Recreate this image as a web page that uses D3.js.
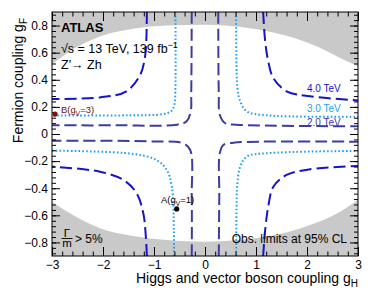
<!DOCTYPE html>
<html><head><meta charset="utf-8">
<script src="https://cdn.jsdelivr.net/npm/d3@7"></script>
<style>
html,body{margin:0;padding:0;background:#fff;}
svg{display:block;font-family:"Liberation Sans",Arial,Helvetica,sans-serif;}
</style></head>
<body><svg id="c" width="370" height="294"></svg>
<script>
// ---- data ----
const xTicks = [-3,-2,-1,0,1,2,3];
const yTicks = [-0.8,-0.6,-0.4,-0.2,0,0.2,0.4,0.6,0.8];
const xDomain = [-3,3];
const yDomain = [-0.9,0.9];

// Gamma/m > 5% excluded region boundaries [gH, gF]
const widthTop = [[-3,0.511],[-2.65,0.61],[-2.06,0.72],[-1.41,0.777],[-0.75,0.80],[0,0.806],[0.88,0.78],[1.54,0.73],[2.19,0.647],[2.65,0.56],[3,0.5]];
const widthBottom = [[-3,-0.499],[-2.65,-0.585],[-2.06,-0.695],[-1.41,-0.752],[-0.75,-0.782],[0,-0.794],[1.21,-0.757],[2.06,-0.671],[2.65,-0.573],[3,-0.487]];

// 4.0 TeV contour branches
const m4_TL = [[-1.14,0.9],[-1.15,0.70],[-1.18,0.56],[-1.27,0.437],[-1.54,0.315],[-2.06,0.27],[-3,0.258]];
const m4_TR = [[1.14,0.9],[1.18,0.684],[1.24,0.536],[1.34,0.413],[1.60,0.315],[2.06,0.278],[3,0.248]];
const m4_BL = [[-1.14,-0.9],[-1.16,-0.757],[-1.21,-0.585],[-1.34,-0.437],[-1.60,-0.339],[-2.06,-0.278],[-3,-0.241]];
const m4_BR = [[1.14,-0.9],[1.18,-0.708],[1.24,-0.536],[1.34,-0.389],[1.60,-0.302],[2.06,-0.26],[3,-0.236]];
// 3.0 TeV contour branches
const m3_TL = [[-0.58,0.9],[-0.58,0.35],[-0.60,0.22],[-0.66,0.17],[-0.82,0.147],[-1.5,0.138],[-3,0.137]];
const m3_TR = [[0.61,0.9],[0.62,0.45],[0.64,0.33],[0.69,0.241],[0.82,0.167],[1.21,0.138],[3,0.128]];
const m3_BL = [[-0.61,-0.9],[-0.61,-0.708],[-0.65,-0.389],[-0.75,-0.265],[-0.95,-0.192],[-1.41,-0.147],[-3,-0.123]];
const m3_BR = [[0.61,-0.9],[0.62,-0.5],[0.63,-0.389],[0.69,-0.241],[0.82,-0.167],[1.21,-0.142],[3,-0.125]];
// 2.0 TeV contour branches
const m2_TL = [[-0.26,0.9],[-0.27,0.3],[-0.28,0.167],[-0.36,0.094],[-0.55,0.069],[-1.73,0.064],[-3,0.064]];
const m2_TR = [[0.26,0.9],[0.27,0.3],[0.29,0.142],[0.39,0.081],[0.62,0.069],[3,0.057]];
const m2_BL = [[-0.26,-0.9],[-0.26,-0.46],[-0.29,-0.118],[-0.43,-0.069],[-1,-0.055],[-3,-0.049]];
const m2_BR = [[0.27,-0.9],[0.28,-0.46],[0.29,-0.142],[0.36,-0.081],[0.56,-0.064],[3,-0.057]];

const massLabels = ["4.0 TeV","3.0 TeV","2.0 TeV"];
const benchmarkA = [-0.555,-0.553];
const benchmarkB = [-2.94,0.147];

// ---- layout ----
const svg = d3.select("#c");
const L=52, R=358, T=12, B=256;
const x = d3.scaleLinear().domain(xDomain).range([L,R]);
const y = d3.scaleLinear().domain(yDomain).range([B,T]);
const FONT = "Liberation Sans, Arial, sans-serif";

svg.append("defs").append("clipPath").attr("id","clip")
  .append("rect").attr("x",L).attr("y",T).attr("width",R-L).attr("height",B-T);
const plot = svg.append("g").attr("clip-path","url(#clip)");

const gray = "#c9c9c9";
plot.append("path").datum(widthTop)
  .attr("d", d3.area().x(d=>x(d[0])).y0(y(yDomain[1])).y1(d=>y(d[1])).curve(d3.curveMonotoneX))
  .attr("fill", gray);
plot.append("path").datum(widthBottom)
  .attr("d", d3.area().x(d=>x(d[0])).y0(y(yDomain[0])).y1(d=>y(d[1])).curve(d3.curveMonotoneX))
  .attr("fill", gray);

const line = d3.line().x(d=>x(d[0])).y(d=>y(d[1])).curve(d3.curveCatmullRom.alpha(0.5));
const styles = [
  {branches:[m2_TL,m2_TR,m2_BL,m2_BR], color:"#3d3da0", dash:"12,5", w:2},
  {branches:[m3_TL,m3_TR,m3_BL,m3_BR], color:"#1f9ff0", dash:"1.6,2.2", w:2},
  {branches:[m4_TL,m4_TR,m4_BL,m4_BR], color:"#1414c8", dash:"12,5", w:2}
];
styles.forEach(s=>{
  s.branches.forEach(br=>{
    plot.append("path").datum(br).attr("d",line).attr("fill","none")
      .attr("stroke",s.color).attr("stroke-width",s.w).attr("stroke-dasharray",s.dash);
  });
});

// ---- axes ----
const fmtY = d => d===0 ? "0" : d3.format(".1f")(d);
const fmtX = d => d3.format("d")(d);
const xMinor = d3.range(-3,3.001,0.2).map(v=>+v.toFixed(2));
const yMinor = d3.range(-0.88,0.881,0.04).map(v=>+v.toFixed(2));

function styleAxis(g){ g.select(".domain").remove(); g.selectAll("line").attr("stroke","#000"); }
// bottom
svg.append("g").attr("transform",`translate(0,${B})`)
  .call(d3.axisBottom(x).tickValues(xTicks).tickSize(-9).tickPadding(4).tickFormat(fmtX))
  .call(styleAxis).call(g=>g.selectAll("text").attr("font-size",12).attr("fill","#000").attr("font-family",FONT));
svg.append("g").attr("transform",`translate(0,${B})`)
  .call(d3.axisBottom(x).tickValues(xMinor).tickSize(-4.5).tickFormat(""))
  .call(styleAxis);
// top
svg.append("g").attr("transform",`translate(0,${T})`)
  .call(d3.axisTop(x).tickValues(xTicks).tickSize(-9).tickFormat(""))
  .call(styleAxis);
svg.append("g").attr("transform",`translate(0,${T})`)
  .call(d3.axisTop(x).tickValues(xMinor).tickSize(-4.5).tickFormat(""))
  .call(styleAxis);
// left
svg.append("g").attr("transform",`translate(${L},0)`)
  .call(d3.axisLeft(y).tickValues(yTicks).tickSize(-8).tickPadding(4).tickFormat(fmtY))
  .call(styleAxis).call(g=>g.selectAll("text").attr("font-size",12).attr("fill","#000").attr("font-family",FONT));
svg.append("g").attr("transform",`translate(${L},0)`)
  .call(d3.axisLeft(y).tickValues(yMinor).tickSize(-4).tickFormat(""))
  .call(styleAxis);
// right
svg.append("g").attr("transform",`translate(${R},0)`)
  .call(d3.axisRight(y).tickValues(yTicks).tickSize(-8).tickFormat(""))
  .call(styleAxis);
svg.append("g").attr("transform",`translate(${R},0)`)
  .call(d3.axisRight(y).tickValues(yMinor).tickSize(-4).tickFormat(""))
  .call(styleAxis);

svg.append("rect").attr("x",L).attr("y",T).attr("width",R-L).attr("height",B-T)
  .attr("fill","none").attr("stroke","#000").attr("stroke-width",1);

// axis titles
const xt = svg.append("text").attr("x",R).attr("y",283).attr("text-anchor","end").attr("font-size",14);
xt.append("tspan").text("Higgs and vector boson coupling g");
xt.append("tspan").attr("dy",4).attr("font-size",10).text("H");
const yt = svg.append("text").attr("transform",`translate(23,18) rotate(-90)`).attr("text-anchor","end").attr("font-size",14);
yt.append("tspan").text("Fermion coupling g");
yt.append("tspan").attr("dy",4).attr("font-size",10).text("F");

// labels
svg.append("text").attr("x",61).attr("y",32).attr("font-size",13).attr("font-weight","bold").text("ATLAS");
const rs = svg.append("text").attr("x",61).attr("y",52.5).attr("font-size",12.5);
rs.append("tspan").text("\u221As = 13 TeV, 139 fb");
rs.append("tspan").attr("dy",-5).attr("font-size",9).text("\u22121");
svg.append("text").attr("x",61).attr("y",68.5).attr("font-size",12.5).text("Z'\u2192 Zh");

const labColors = ["#1414c8","#1f9ff0","#3d3da0"];
const labY = [92,112,126];
massLabels.forEach((t,i)=>{
  svg.append("text").attr("x",307).attr("y",labY[i]).attr("font-size",10).attr("fill",labColors[i]).text(t);
});

// benchmarks
svg.append("circle").attr("cx",x(benchmarkB[0])).attr("cy",y(benchmarkB[1])).attr("r",2.6).attr("fill","#7a1010");
const bt = svg.append("text").attr("x",61).attr("y",113).attr("font-size",9.5).attr("fill","#7a1010");
bt.append("tspan").text("B(g");
bt.append("tspan").attr("dy",2.5).attr("font-size",6.5).text("V");
bt.append("tspan").attr("dy",-2.5).text("=3)");
svg.append("circle").attr("cx",x(benchmarkA[0])).attr("cy",y(benchmarkA[1])).attr("r",2.6).attr("fill","#000");
const at = svg.append("text").attr("x",161).attr("y",203).attr("font-size",9.5).attr("fill","#000");
at.append("tspan").text("A(g");
at.append("tspan").attr("dy",2.5).attr("font-size",6.5).text("V");
at.append("tspan").attr("dy",-2.5).text("=1)");

// Gamma/m > 5%
svg.append("text").attr("x",67).attr("y",236.5).attr("text-anchor","middle").attr("font-size",11.5).text("\u0393");
svg.append("line").attr("x1",61.5).attr("x2",72.5).attr("y1",238.5).attr("y2",238.5).attr("stroke","#000").attr("stroke-width",0.9);
svg.append("text").attr("x",67).attr("y",247).attr("text-anchor","middle").attr("font-size",11.5).text("m");
svg.append("text").attr("x",75).attr("y",243).attr("font-size",12).text("> 5%");
svg.append("text").attr("x",347).attr("y",243).attr("text-anchor","end").attr("font-size",12).text("Obs. limits at 95% CL");
</script></body></html>
